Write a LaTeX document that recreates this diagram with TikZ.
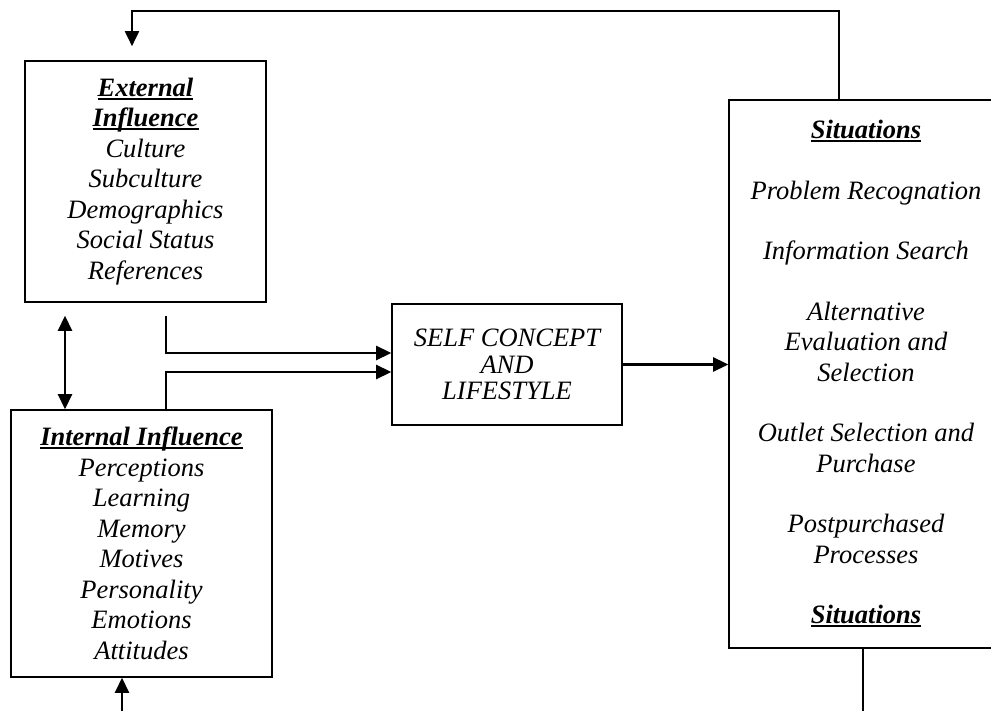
\documentclass[tikz,border=0pt]{standalone}
\usepackage{fontspec}
\setmainfont{Liberation Serif}
\usetikzlibrary{arrows.meta}

% bold italic heading with a thick rule under it
\newcommand{\headul}[1]{%
  \setbox0=\hbox{\bfseries\itshape #1}%
  \rlap{\rule[-3.4pt]{\wd0}{2pt}}\box0}

\tikzset{
  box/.style={draw, line width=1.6pt, inner sep=0pt, align=center,
    font=\itshape\fontsize{26.5}{30.5}\selectfont},
  conn/.style={line width=2.6pt},
  thinconn/.style={line width=1.9pt},
  tip/.tip={Triangle[length=15pt,width=14pt]},
  arr/.style={conn, -tip},
  dbl/.style={conn, tip-tip}
}

\begin{document}
\begin{tikzpicture}[x=1pt,y=-1pt]
  \useasboundingbox (0,0) rectangle (991,711);
  \clip (0,0) rectangle (991,711);
  \fill[white] (0,0) rectangle (991,711);

  % boxes
  \node[box, minimum width=241pt, minimum height=241pt] (ext) at (145.5,181.5)
    {\headul{External}\\ \headul{Influence}\\ Culture\\ Subculture\\ Demographics\\ Social Status\\ References};
  \node[box, minimum width=261pt, minimum height=267pt] (int) at (141.5,543.5)
    {\headul{Internal Influence}\\ Perceptions\\ Learning\\ Memory\\ Motives\\ Personality\\ Emotions\\ Attitudes};
  \node[box, minimum width=230pt, minimum height=121pt,
        font=\itshape\fontsize{26.5}{26.5}\selectfont] (self) at (507,364.5)
    {SELF CONCEPT\\ AND\\ LIFESTYLE};
  \node[box, minimum width=274pt, minimum height=548pt] (sit) at (866,374)
    {\headul{Situations}\\[30pt]
     Problem Recognation\\[30pt]
     Information Search\\[30pt]
     Alternative\\ Evaluation and\\ Selection\\[30pt]
     Outlet Selection and\\ Purchase\\[30pt]
     Postpurchased\\ Processes\\[30pt]
     \headul{Situations}};

  % routing points
  \coordinate (fbR) at (839,11);
  \coordinate (fbL) at (132,11);
  \coordinate (dv) at (65,0);
  \coordinate (a1) at (166,353);
  \coordinate (a2) at (166,372);
  \coordinate (b1) at (122,711);
  \coordinate (b2) at (863,711);

  % feedback from situations to external influence
  \draw[thinconn, -tip, shorten >=14pt] (fbR |- sit.north) -- (fbR) -- (fbL) -- (fbL |- ext.north);
  % external <-> internal
  \draw[dbl, shorten <=13pt] (dv |- ext.south) -- (dv |- int.north);
  % influences into self concept
  \draw[arr, shorten <=13pt] (a1 |- ext.south) -- (a1) -- (a1 -| self.west);
  \draw[arr] (a2 |- int.north) -- (a2) -- (a2 -| self.west);
  % self concept to situations
  \draw[arr] (self.east) -- (self.east -| sit.west);
  % lines at the bottom edge
  \draw[arr] (b1) -- (b1 |- int.south);
  \draw[thinconn] (b2 |- sit.south) -- (b2);
\end{tikzpicture}
\end{document}
